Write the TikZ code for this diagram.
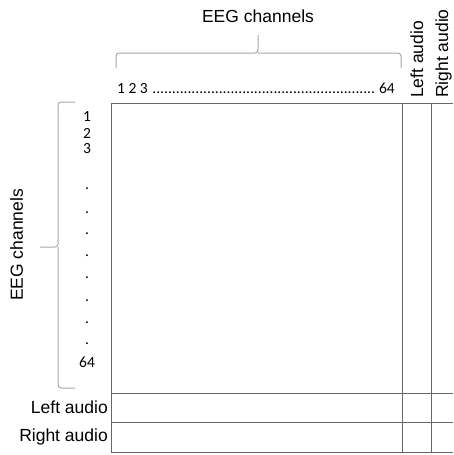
\documentclass[tikz,border=0pt]{standalone}
\usepackage{fontspec}
\setmainfont{Liberation Sans}
\newfontfamily\numfont{Carlito}
\begin{document}
\begin{tikzpicture}[x=1pt,y=-1pt,
  lbl/.style={inner sep=0pt,font=\fontsize{17.5}{20}\selectfont},
  num/.style={inner sep=0pt,font=\numfont\fontsize{15.5}{17}\selectfont},
  gridline/.style={draw=black!60,line width=0.9pt},
  bracestyle/.style={draw=black!35,line width=1pt,rounded corners=3pt}]
\useasboundingbox (0,0) rectangle (453,455);
% grid coordinates
\coordinate (tl) at (111,103);
\coordinate (tr) at (453,103);
\coordinate (bl) at (111,452.5);
\coordinate (br) at (453,452.5);
\coordinate (r1l) at (111,393);
\coordinate (r1r) at (453,393);
\coordinate (r2l) at (111,422);
\coordinate (r2r) at (453,422);
\coordinate (c1t) at (402,103);
\coordinate (c1b) at (402,452.5);
\coordinate (c2t) at (431,103);
\coordinate (c2b) at (431,452.5);
\draw[gridline] (tr) -- (tl) -- (bl) -- (br);
\draw[gridline] (r1l) -- (r1r);
\draw[gridline] (r2l) -- (r2r);
\draw[gridline] (c1t) -- (c1b);
\draw[gridline] (c2t) -- (c2b);
% top brace
\coordinate (tb-l) at (116,68);
\coordinate (tb-m) at (258,53);
\coordinate (tb-tip) at (258,35);
\coordinate (tb-r) at (401,68);
\draw[bracestyle] (tb-l) |- (tb-m) -- (tb-tip);
\draw[bracestyle] (tb-m) -| (tb-r);
% left brace
\coordinate (lb-t) at (75,102);
\coordinate (lb-m) at (58,247);
\coordinate (lb-tip) at (40,247);
\coordinate (lb-b) at (75,388);
\draw[bracestyle] (lb-t) -| (lb-m) -- (lb-tip);
\draw[bracestyle] (lb-m) |- (lb-b);
% labels
\node[lbl,anchor=base] (eegtop) at (258,22) {EEG channels};
\node[lbl,anchor=base,rotate=90] (eegleft) at (23,245) {EEG channels};
\node[lbl,anchor=base west,rotate=90] (latop) at (423,98) {Left audio};
\node[lbl,anchor=base west,rotate=90] (ratop) at (448,98) {Right audio};
\node[lbl,anchor=base east] (laleft) at (108,413) {Left audio};
\node[lbl,anchor=base east] (raleft) at (108,441) {Right audio};
% numbers along top
\node[num,anchor=base west] (toprow) at (117,93) {\hbox to 278pt{1 2 3 \leaders\hbox{.}\hfill\ 64}};
% numbers down the side
\node[num] (n1) at (87,117) {1};
\node[num] (n2) at (87,133) {2};
\node[num] (n3) at (87,149) {3};
\foreach \y [count=\i] in {188,212,233,255,277,300,322,343}
  \node[num,anchor=base] (d\i) at (87,\y+1) {.};
\node[num] (n64) at (87,362) {64};
\end{tikzpicture}
\end{document}
